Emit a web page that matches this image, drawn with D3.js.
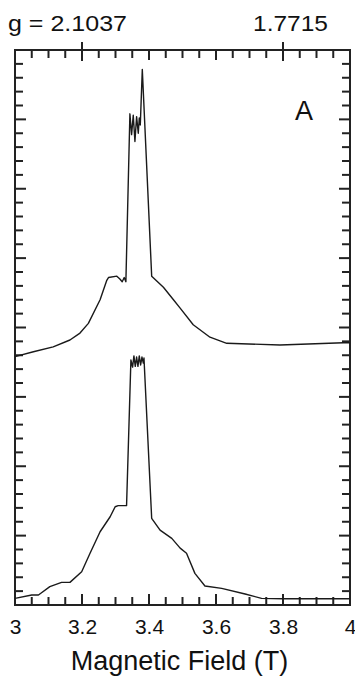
<!DOCTYPE html>
<html>
<head>
<meta charset="utf-8">
<script src="https://cdn.jsdelivr.net/npm/d3@7"></script>
<style>
  html, body { margin: 0; padding: 0; background: #fff; }
  svg { display: block; }
  text { font-family: "Liberation Sans", Arial, Helvetica, sans-serif; fill: #111; }
</style>
</head>
<body>
<svg id="chart" width="355" height="676"></svg>
<script>
// ---- data (field in T, intensity in arbitrary units) ----
const topField = [3.000, 3.055, 3.114, 3.164, 3.194, 3.219, 3.254, 3.274, 3.279, 3.304, 3.313, 3.320, 3.326, 3.331,
  3.343, 3.348, 3.353, 3.358, 3.363, 3.368, 3.371, 3.374, 3.380, 3.408, 3.443, 3.473, 3.493, 3.532, 3.582, 3.632, 3.791, 3.980, 4.000];
const topIntensity = [17.9, 18.25, 18.6, 19.1, 19.6, 20.3, 22.0, 23.4, 23.6, 23.7, 23.5, 23.3, 23.6, 23.3,
  35.4, 33.9, 35.3, 33.4, 35.2, 34.0, 35.1, 34.6, 38.6, 23.7, 22.9, 22.0, 21.4, 20.2, 19.3, 18.86, 18.74, 18.9, 18.9];

const bottomField = [3.000, 3.050, 3.070, 3.104, 3.139, 3.164, 3.199, 3.224, 3.254, 3.284, 3.299, 3.308, 3.333,
  3.346, 3.351, 3.355, 3.359, 3.363, 3.367, 3.371, 3.375, 3.379, 3.383, 3.385,
  3.408, 3.433, 3.468, 3.493, 3.512, 3.537, 3.567, 3.617, 3.687, 3.736, 3.800, 4.000];
const bottomIntensity = [0.48, 0.72, 0.72, 1.32, 1.63, 1.63, 2.4, 3.73, 5.28, 6.36, 7.08, 7.16, 7.16,
  17.66, 17.15, 17.95, 17.2, 17.87, 17.2, 17.95, 17.3, 17.87, 17.44, 17.8,
  6.25, 5.4, 4.8, 4.1, 3.73, 2.28, 1.37, 1.2, 0.79, 0.48, 0.45, 0.45];

const xTickValues = [3, 3.2, 3.4, 3.6, 3.8, 4];
const xTickLabels = ["3", "3.2", "3.4", "3.6", "3.8", "4"];
const gTickFields = [3.2, 3.8];
const gTickLabels = ["g = 2.1037", "1.7715"];
const panelLabel = "A";
const xTitle = "Magnetic Field (T)";

// ---- layout ----
const svg = d3.select("#chart");
const W = 355, H = 676;
svg.append("rect").attr("width", W).attr("height", H).attr("fill", "#fff");

const L = 15, R = 350, T = 50, B = 605;
const x = d3.scaleLinear().domain([3, 4]).range([L, R]);
const y = d3.scaleLinear().domain([0, 40]).range([B, T]);

const axisColor = "#222";
const minorX = d3.range(0, 21).map(i => +(3 + i * 0.05).toFixed(2));
const minorY = d3.range(0, 41);
const isMajorX = d => Math.abs(Math.round(d * 5) - d * 5) < 1e-6;
const isMajorY = d => d % 5 === 0;

const ticks = svg.append("g").attr("stroke", axisColor).attr("stroke-width", 2);
// bottom ticks (inward)
ticks.append("g").selectAll("line").data(minorX).join("line")
  .attr("x1", d => x(d)).attr("x2", d => x(d))
  .attr("y1", B).attr("y2", d => B - (isMajorX(d) ? 11 : 8));
// top ticks (inward)
ticks.append("g").selectAll("line").data(minorX).join("line")
  .attr("x1", d => x(d)).attr("x2", d => x(d))
  .attr("y1", T).attr("y2", d => T + (isMajorX(d) ? 10 : 8));
// left ticks
ticks.append("g").selectAll("line").data(minorY).join("line")
  .attr("y1", d => y(d)).attr("y2", d => y(d))
  .attr("x1", L).attr("x2", d => L + (isMajorY(d) ? 11 : 8));
// right ticks
ticks.append("g").selectAll("line").data(minorY).join("line")
  .attr("y1", d => y(d)).attr("y2", d => y(d))
  .attr("x1", R).attr("x2", d => R - (isMajorY(d) ? 11 : 8));
// g-value ticks crossing the top frame
ticks.append("g").selectAll("line").data(gTickFields).join("line")
  .attr("x1", d => x(d)).attr("x2", d => x(d))
  .attr("y1", T - 8).attr("y2", T + 11);

// bottom tick labels via d3 axis (labels only)
svg.append("g").attr("transform", `translate(0,${B})`)
  .call(d3.axisBottom(x).tickValues(xTickValues).tickSize(0).tickPadding(0)
    .tickFormat((d, i) => xTickLabels[i]))
  .call(g => g.select(".domain").remove())
  .call(g => g.selectAll("text").attr("font-size", 21).attr("fill", "#000")
    .attr("font-family", '"Liberation Sans", Arial, sans-serif')
    .attr("y", 29).attr("dy", 0));

// g labels on top
svg.append("g").selectAll("text").data(gTickFields).join("text")
  .attr("x", (d, i) => i === 0 ? x(d) - 14.5 : x(d) + 7.5)
  .attr("y", 31)
  .attr("text-anchor", "middle")
  .attr("font-size", 22)
  .attr("fill", "#000")
  .attr("textLength", (d, i) => i === 0 ? 119 : 75)
  .attr("lengthAdjust", "spacingAndGlyphs")
  .text((d, i) => gTickLabels[i]);

// frame
svg.append("rect").attr("x", L).attr("y", T).attr("width", R - L).attr("height", B - T)
  .attr("fill", "none").attr("stroke", axisColor).attr("stroke-width", 2);

// traces
const line = d3.line().x(d => x(d[0])).y(d => y(d[1]));
const topData = topField.map((f, i) => [f, topIntensity[i]]);
const bottomData = bottomField.map((f, i) => [f, bottomIntensity[i]]);
[topData, bottomData].forEach(data => {
  svg.append("path").datum(data).attr("d", line)
    .attr("fill", "none").attr("stroke", "#1a1a1a").attr("stroke-width", 1.4)
    .attr("stroke-linejoin", "round");
});

// panel label
svg.append("text").attr("x", 304).attr("y", 120).attr("text-anchor", "middle")
  .attr("font-size", 27).attr("fill", "#000").text(panelLabel);

// axis title
svg.append("text").attr("x", (L + R) / 2 - 3).attr("y", 670).attr("text-anchor", "middle")
  .attr("font-size", 27).attr("fill", "#000").text(xTitle);
</script>
</body>
</html>
